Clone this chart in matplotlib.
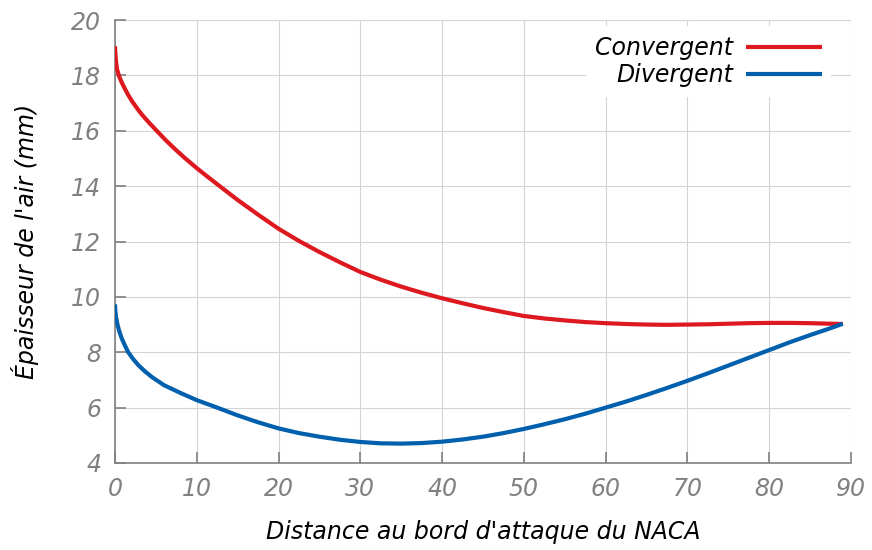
import matplotlib
matplotlib.use("Agg")
import matplotlib.pyplot as plt

# Convergent (red) curve readings
conv_x = [0, 0.03, 0.06, 0.12, 0.25, 0.5, 0.8, 1.17, 1.6, 2.1, 2.7, 3.3, 4.2, 5.1, 6.2,
          7.4, 8.6, 10, 11.4, 12.8, 15, 17.5, 20, 22.5, 25,
          27.5, 30, 32.5, 35, 37.5, 40, 42.5, 45, 47.5, 50, 52.5, 55, 57.5, 60, 62.5,
          65, 67.5, 70, 72.5, 75, 77.5, 80, 82.5, 85, 87.5, 89]
conv_y = [19.05, 18.88, 18.74, 18.5, 18.22, 17.97, 17.76, 17.54, 17.3, 17.06, 16.81,
          16.58, 16.28, 16.0, 15.66, 15.32, 15.0, 14.65, 14.32, 14.0, 13.5, 12.97,
          12.46, 12.02, 11.62, 11.25, 10.9, 10.62, 10.37,
          10.15, 9.95, 9.77, 9.6, 9.45, 9.31, 9.22, 9.15, 9.09, 9.05, 9.02, 9.0, 8.99,
          9.0, 9.01, 9.03, 9.05, 9.06, 9.06, 9.05, 9.03, 9.02]

# Divergent (blue) curve readings
div_x = [0, 0.02, 0.05, 0.12, 0.28, 0.5, 0.8, 1.2, 1.62, 2.2, 2.9, 3.7, 4.53, 6, 8, 10,
         12.5, 15, 17.5, 20, 22.5,
         25, 27.5, 30, 32.5, 35, 37.5, 40, 42.5, 45, 47.5, 50, 52.5, 55, 57.5, 60,
         62.5, 65, 67.5, 70, 72.5, 75, 77.5, 80, 82.5, 85, 87.5, 89]
div_y = [9.73, 9.6, 9.47, 9.28, 9.03, 8.78, 8.52, 8.25, 8.0, 7.76, 7.52, 7.3, 7.1, 6.81,
         6.53, 6.27, 6.0, 5.72, 5.47, 5.25, 5.08, 4.95, 4.84, 4.76, 4.71, 4.70, 4.72,
         4.77, 4.85, 4.95, 5.08, 5.23, 5.4, 5.58, 5.78, 6.0, 6.22, 6.46, 6.71, 6.97,
         7.24, 7.52, 7.8, 8.08, 8.36, 8.62, 8.87, 9.03]

x_ticks = [0, 10, 20, 30, 40, 50, 60, 70, 80, 90]
y_ticks = [4, 6, 8, 10, 12, 14, 16, 18, 20]

labels = ["Convergent", "Divergent"]
xlabel = "Distance au bord d'attaque du NACA"
ylabel = "Épaisseur de l'air (mm)"

plt.rcParams['font.family'] = ['DejaVu Sans']

fig = plt.figure(figsize=(8.72, 5.5), dpi=100)
ax = fig.add_axes([115/872, 1-463/550, (851-115)/872, (463-20)/550])

ax.plot(conv_x, conv_y, color="#dd181f", lw=3.0, label=labels[0],
        solid_capstyle="butt", solid_joinstyle="round", zorder=3)
ax.plot(div_x, div_y, color="#0060ad", lw=3.0, label=labels[1],
        solid_capstyle="butt", solid_joinstyle="round", zorder=3)

ax.set_xlim(0, 90)
ax.set_ylim(4, 20)
ax.set_xticks(x_ticks)
ax.set_yticks(y_ticks)
ax.grid(True, color="#d4d4d4", lw=0.8)
ax.set_axisbelow(True)

gray = "#808080"
for s in ["top", "right"]:
    ax.spines[s].set_visible(False)
for s in ["left", "bottom"]:
    ax.spines[s].set_color(gray)
    ax.spines[s].set_linewidth(1.2)

ax.tick_params(direction="in", length=8, width=1.2, color=gray, labelcolor=gray,
               labelsize=17)
for lab in ax.get_xticklabels() + ax.get_yticklabels():
    lab.set_fontstyle("italic")
ax.tick_params(axis="x", pad=10)
ax.tick_params(axis="y", pad=10)

ax.set_xlabel(xlabel, fontsize=17, style="italic", color="black", labelpad=14)
ax.set_ylabel(ylabel, fontsize=17, style="italic", color="black", labelpad=23)

leg = ax.legend(loc="upper right", bbox_to_anchor=(0.989, 1.012), markerfirst=False,
                frameon=True, fancybox=False, framealpha=1, facecolor="white",
                edgecolor="none", handlelength=3.2, labelspacing=0.15,
                prop={"size": 17, "style": "italic"}, borderpad=0.4,
                handletextpad=0.55)
for t in leg.get_texts():
    t.set_ha("right")

fig.savefig("out.png", dpi=100)
